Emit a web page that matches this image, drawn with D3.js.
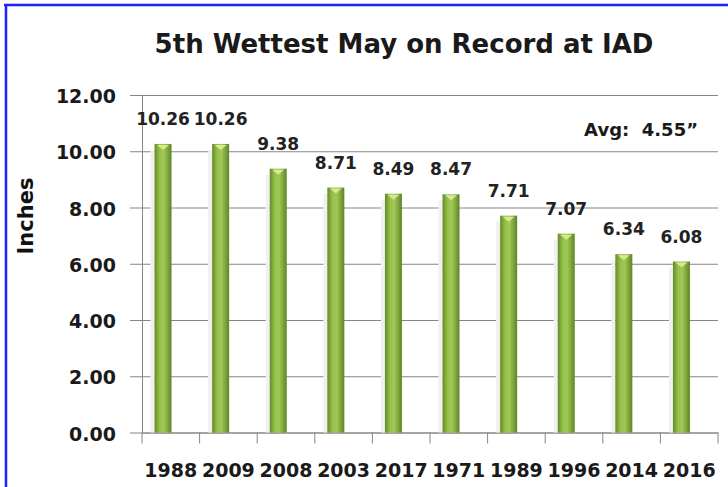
<!DOCTYPE html>
<html>
<head>
<meta charset="utf-8">
<script src="https://cdn.jsdelivr.net/npm/d3@7"></script>
<style>
  body { margin: 0; background: #fff; }
  svg { display: block; }
  .axis path, .axis line { stroke: #868686; }
</style>
</head>
<body>
<svg id="chart" width="728" height="487"></svg>
<script>
// chart values
const years = ['1988', '2009', '2008', '2003', '2017', '1971', '1989', '1996', '2014', '2016']
const rainfall = [10.26, 10.26, 9.38, 8.71, 8.49, 8.47, 7.71, 7.07, 6.34, 6.08]
const yTickValues = [0, 2, 4, 6, 8, 10, 12]
const chartTitle = '5th Wettest May on Record at IAD'
const yLabel = 'Inches'
const avgNote = 'Avg:  4.55\u201d'

const fontFamily = "'DejaVu Sans', sans-serif"

const svg = d3.select('#chart')
const width = +svg.attr('width')
const height = +svg.attr('height')
const margin = { top: 95, right: 10, bottom: 54.5, left: 142 }
const innerWidth = width - margin.left - margin.right
const innerHeight = height - margin.top - margin.bottom

// blue frame on top and left
svg.append('line')
  .attr('x1', 4).attr('x2', width).attr('y1', 5).attr('y2', 5)
  .attr('stroke', '#1f1fff').attr('stroke-width', 2.5)
svg.append('line')
  .attr('x1', 6).attr('x2', 6).attr('y1', 4).attr('y2', height)
  .attr('stroke', '#1f1fff').attr('stroke-width', 2.5)

// title
svg.append('text')
  .attr('x', margin.left + 262)
  .attr('y', 53)
  .attr('text-anchor', 'middle')
  .attr('font-family', fontFamily)
  .attr('font-weight', 'bold')
  .attr('font-size', 26)
  .attr('fill', '#1a1a1a')
  .text(chartTitle)

const g = svg.append('g')
  .attr('transform', `translate(${margin.left}, ${margin.top})`)

// scales
const xScale = d3.scaleBand()
  .domain(years)
  .range([0, innerWidth])
const yScale = d3.scaleLinear()
  .domain([0, 12])
  .range([innerHeight, 0])

// gridlines
g.append('g')
  .attr('class', 'axis grid')
  .call(d3.axisLeft(yScale)
    .tickValues(yTickValues)
    .tickSize(-innerWidth)
    .tickFormat(''))
  .call(sel => sel.select('.domain').remove())
  .call(sel => sel.selectAll('text').remove())

// y axis (lines only, labels drawn below)
g.append('g')
  .attr('class', 'axis')
  .call(d3.axisLeft(yScale)
    .tickValues(yTickValues)
    .tickSizeInner(12)
    .tickSizeOuter(0)
    .tickFormat(''))
  .call(sel => sel.selectAll('text').remove())

g.append('g')
  .selectAll('text')
  .data(yTickValues)
  .enter()
  .append('text')
  .attr('x', -26)
  .attr('y', d => yScale(d) + 8)
  .attr('text-anchor', 'end')
  .attr('font-family', fontFamily)
  .attr('font-weight', 'bold')
  .attr('font-size', 19)
  .attr('fill', '#1a1a1a')
  .text(d3.format('.2f'))

// x axis
const xAxisG = g.append('g')
  .attr('class', 'axis')
  .attr('transform', `translate(0, ${innerHeight})`)
  .call(d3.axisBottom(xScale)
    .tickSize(0)
    .tickFormat(''))
xAxisG.selectAll('.tick').remove()
// ticks on the category boundaries
xAxisG.selectAll('line.edge')
  .data(years.map(d => xScale(d)).concat([xScale.range()[1]]))
  .enter()
  .append('line')
  .attr('class', 'edge')
  .attr('x1', d => d).attr('x2', d => d)
  .attr('y1', 0).attr('y2', 11)

g.append('g')
  .selectAll('text')
  .data(years)
  .enter()
  .append('text')
  .attr('x', d => xScale(d) + xScale.bandwidth() / 2)
  .attr('y', innerHeight + 44)
  .attr('text-anchor', 'middle')
  .attr('font-family', fontFamily)
  .attr('font-weight', 'bold')
  .attr('font-size', 19)
  .attr('fill', '#1a1a1a')
  .text(d => d)

// y axis title
svg.append('text')
  .attr('transform', `translate(33, ${margin.top + 121}) rotate(-90)`)
  .attr('text-anchor', 'middle')
  .attr('font-family', fontFamily)
  .attr('font-weight', 'bold')
  .attr('font-size', 21)
  .attr('fill', '#111')
  .text(yLabel)

// bar gradient (cylinder look)
const defs = svg.append('defs')
const grad = defs.append('linearGradient')
  .attr('id', 'barGrad')
  .attr('x1', '0%').attr('x2', '100%').attr('y1', '0%').attr('y2', '0%')
grad.append('stop').attr('offset', '0%').attr('stop-color', '#628d28')
grad.append('stop').attr('offset', '30%').attr('stop-color', '#97bf4a')
grad.append('stop').attr('offset', '55%').attr('stop-color', '#a0c855')
grad.append('stop').attr('offset', '100%').attr('stop-color', '#5e8526')

const barWidth = 17
const barCenter = d => xScale(d) + xScale.bandwidth() * 0.365
const data = years.map((year, i) => ({ year, value: rainfall[i] }))

// faint shadow left of bars
g.append('g')
  .selectAll('rect')
  .data(data)
  .enter()
  .append('rect')
  .attr('x', d => barCenter(d.year) - barWidth / 2 - 4)
  .attr('y', d => yScale(d.value) + 6)
  .attr('width', 4)
  .attr('height', d => innerHeight - yScale(d.value) - 6)
  .attr('fill', '#f1f1f1')

g.append('g')
  .selectAll('rect')
  .data(data)
  .enter()
  .append('rect')
  .attr('x', d => barCenter(d.year) - barWidth / 2)
  .attr('y', d => yScale(d.value))
  .attr('width', barWidth)
  .attr('height', d => innerHeight - yScale(d.value))
  .attr('fill', 'url(#barGrad)')

// light top highlight
g.append('g')
  .selectAll('path')
  .data(data)
  .enter()
  .append('path')
  .attr('d', d => {
    const cx = barCenter(d.year)
    const ty = yScale(d.value)
    return `M${cx - 6},${ty + 1} L${cx + 6},${ty + 1} L${cx},${ty + 6} Z`
  })
  .attr('fill', '#d6e98f')

// value labels
g.append('g')
  .selectAll('text')
  .data(data)
  .enter()
  .append('text')
  .attr('x', d => barCenter(d.year))
  .attr('y', d => yScale(d.value) - 19)
  .attr('text-anchor', 'middle')
  .attr('font-family', fontFamily)
  .attr('font-weight', 'bold')
  .attr('font-size', 17)
  .attr('fill', '#222')
  .text(d => d3.format('.2f')(d.value))

// average note
svg.append('text')
  .attr('x', 698)
  .attr('y', 136)
  .attr('text-anchor', 'end')
  .attr('xml:space', 'preserve')
  .style('white-space', 'pre')
  .attr('font-family', fontFamily)
  .attr('font-weight', 'bold')
  .attr('font-size', 18)
  .attr('fill', '#1a1a1a')
  .text(avgNote)
</script>
</body>
</html>
